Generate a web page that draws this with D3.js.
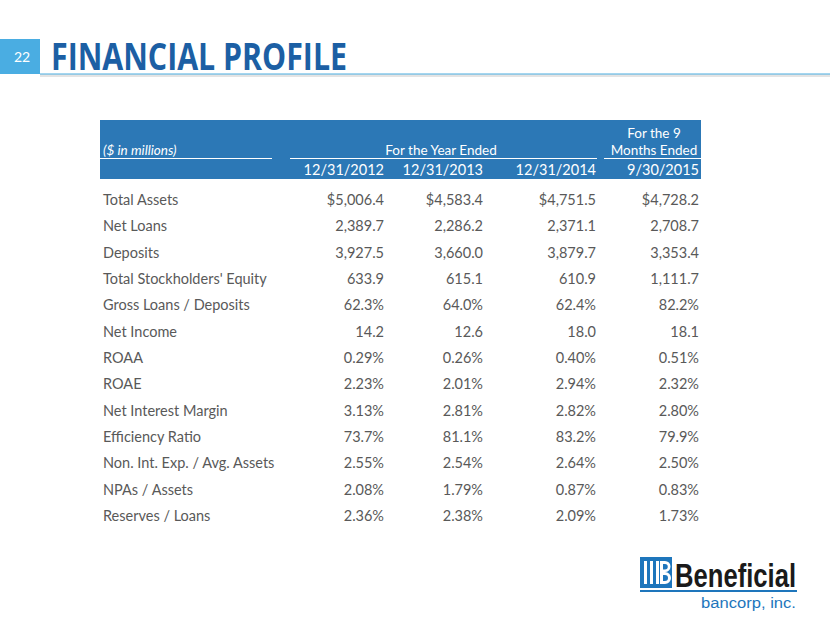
<!DOCTYPE html>
<html>
<head>
<meta charset="utf-8">
<script src="https://cdn.jsdelivr.net/npm/d3@7"></script>
<style>
  html, body { margin: 0; padding: 0; background: #ffffff; }
  svg { display: block; }
</style>
</head>
<body>
<svg id="chart" width="830" height="623"></svg>
<script>
// ---- data ----
const pageNumber = "22";
const title = "FINANCIAL PROFILE";
const unitLabel = "($ in millions)";
const groupLabels = ["For the Year Ended", "For the 9", "Months Ended"];
const columns = ["12/31/2012", "12/31/2013", "12/31/2014", "9/30/2015"];
const rowLabels = [
  "Total Assets", "Net Loans", "Deposits", "Total Stockholders' Equity",
  "Gross Loans / Deposits", "Net Income", "ROAA", "ROAE",
  "Net Interest Margin", "Efficiency Ratio", "Non. Int. Exp. / Avg. Assets",
  "NPAs / Assets", "Reserves / Loans"
];
const rowFormats = ["$,.1f", ",.1f", ",.1f", ",.1f", ".1f%", ".1f", ".2f%", ".2f%", ".2f%", ".1f%", ".2f%", ".2f%", ".2f%"];
const values2012 = [5006.4, 2389.7, 3927.5, 633.9, 62.3, 14.2, 0.29, 2.23, 3.13, 73.7, 2.55, 2.08, 2.36];
const values2013 = [4583.4, 2286.2, 3660.0, 615.1, 64.0, 12.6, 0.26, 2.01, 2.81, 81.1, 2.54, 1.79, 2.38];
const values2014 = [4751.5, 2371.1, 3879.7, 610.9, 62.4, 18.0, 0.40, 2.94, 2.82, 83.2, 2.64, 0.87, 2.09];
const values2015 = [4728.2, 2708.7, 3353.4, 1111.7, 82.2, 18.1, 0.51, 2.32, 2.80, 79.9, 2.50, 0.83, 1.73];
const seriesValues = [values2012, values2013, values2014, values2015];

// ---- layout ----
const svg = d3.select("#chart");
const font = "Lato, 'Open Sans', sans-serif";
const textColor = "#595959";

function fmt(spec, v) {
  if (spec.endsWith("%")) return d3.format(spec.slice(0, -1))(v) + "%";
  return d3.format(spec)(v);
}

// header band
svg.append("rect").attr("x", 0).attr("y", 39).attr("width", 40).attr("height", 35).attr("fill", "#4AADE2");
svg.append("text").attr("x", 22).attr("y", 62).attr("text-anchor", "middle")
  .attr("font-family", font).attr("font-size", 14).attr("fill", "#ffffff").text(pageNumber);
// underline with shadow
svg.append("rect").attr("x", 40).attr("y", 74).attr("width", 790).attr("height", 3).attr("fill", "#e4e4e4");
svg.append("line").attr("x1", 40).attr("x2", 830).attr("y1", 74).attr("y2", 74).attr("stroke", "#4AADE2").attr("stroke-width", 1.2);
svg.append("text").attr("x", 51).attr("y", 70)
  .attr("font-family", "'Open Sans', Lato, sans-serif").attr("font-weight", 700).attr("font-size", 38)
  .attr("textLength", 296).attr("lengthAdjust", "spacingAndGlyphs")
  .attr("fill", "#1C5FA4").text(title);

// table
const tableLeft = 100, tableRight = 701;
const colX = d3.scaleOrdinal().domain(columns).range([384, 483, 596, 699]);
const rowY = d3.scalePoint().domain(rowLabels).range([200, 516]);

svg.append("rect").attr("x", tableLeft).attr("y", 120).attr("width", tableRight - tableLeft).attr("height", 59)
  .attr("fill", "#2C78B6");
// white separator lines
[[100, 272], [290, 597], [604, 701]].forEach(([a, b]) => {
  svg.append("line").attr("x1", a).attr("x2", b).attr("y1", 158.5).attr("y2", 158.5)
    .attr("stroke", "#ffffff").attr("stroke-width", 1);
});

const hdr = svg.append("g").attr("font-family", font).attr("font-size", 13.5).attr("fill", "#ffffff");
hdr.append("text").attr("x", 103).attr("y", 155).attr("font-style", "italic").text(unitLabel);
hdr.append("text").attr("x", 441).attr("y", 155).attr("text-anchor", "middle").text(groupLabels[0]);
hdr.append("text").attr("x", 654).attr("y", 138).attr("text-anchor", "middle").text(groupLabels[1]);
hdr.append("text").attr("x", 654).attr("y", 155).attr("text-anchor", "middle").text(groupLabels[2]);
hdr.selectAll("text.col").data(columns).join("text").attr("class", "col")
  .attr("x", d => colX(d)).attr("y", 175).attr("text-anchor", "end").attr("font-size", 14.5).text(d => d);

// body
const body = svg.append("g").attr("font-family", font).attr("font-size", 14.5).attr("fill", textColor);
body.selectAll("text.lab").data(rowLabels).join("text").attr("class", "lab")
  .attr("x", 103).attr("y", d => rowY(d) + 5).text(d => d);
columns.forEach((c, ci) => {
  body.selectAll("text.v" + ci).data(seriesValues[ci]).join("text").attr("class", "v" + ci)
    .attr("x", colX(c)).attr("y", (d, i) => rowY(rowLabels[i]) + 5).attr("text-anchor", "end")
    .text((d, i) => fmt(rowFormats[i], d));
});

// logo
const logo = svg.append("g");
logo.append("rect").attr("x", 640).attr("y", 557).attr("width", 32).attr("height", 31).attr("fill", "#1E76BC");
[644, 650, 656].forEach(x => logo.append("rect").attr("x", x).attr("y", 561).attr("width", 3).attr("height", 23).attr("fill", "#ffffff"));
logo.append("path").attr("d", "M660,561 h5 a5.5,5.5 0 0 1 0,11 a6,6 0 0 1 0,12 h-5 z M663,564 v5.5 h2 a2.7,2.7 0 0 0 0,-5.5 z M663,575 v6 h2 a3,3 0 0 0 0,-6 z")
  .attr("fill", "#ffffff").attr("fill-rule", "evenodd");
logo.append("text").attr("x", 675).attr("y", 587)
  .attr("font-family", "'Liberation Sans Narrow', 'Liberation Sans', sans-serif").attr("font-weight", 700).attr("font-size", 33)
  .attr("textLength", 121).attr("lengthAdjust", "spacingAndGlyphs").attr("fill", "#1a1a1a").text("Beneficial");
logo.append("rect").attr("x", 640).attr("y", 590).attr("width", 157).attr("height", 2).attr("fill", "#1E76BC");
logo.append("text").attr("x", 796).attr("y", 608).attr("text-anchor", "end")
  .attr("font-family", "'Liberation Sans Narrow', 'Liberation Sans', sans-serif").attr("font-size", 14)
  .attr("textLength", 95).attr("lengthAdjust", "spacingAndGlyphs")
  .attr("fill", "#1E76BC").text("bancorp, inc.");
</script>
</body>
</html>
